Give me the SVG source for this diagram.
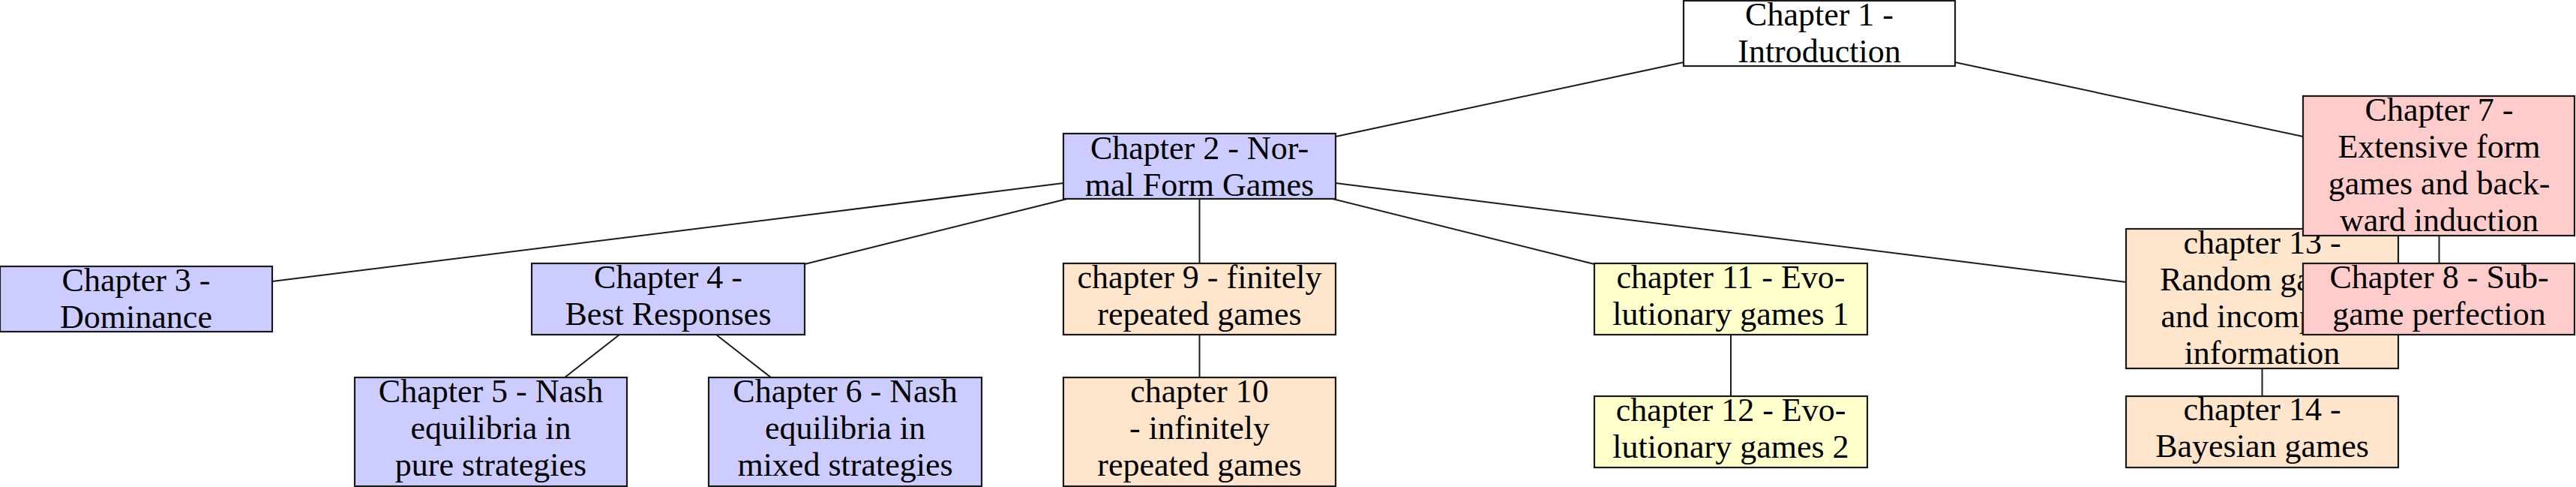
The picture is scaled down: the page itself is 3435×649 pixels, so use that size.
<svg xmlns="http://www.w3.org/2000/svg" width="3435" height="649" viewBox="0 0 3435 649">
<style>
.box{stroke:#1a1a1a;stroke-width:2.2}
.w{fill:#ffffff}.b{fill:#ccccff}.r{fill:#ffcccc}.o{fill:#ffe5cc}.y{fill:#ffffcc}
text{font-family:"Liberation Serif","Times New Roman",serif;font-size:44px;fill:#000;text-anchor:middle}
.edges line{stroke:#1a1a1a;stroke-width:2}
</style>
<rect width="3435" height="649" fill="#ffffff"/>
<g class="edges" id="connectors">
<line x1="2245" y1="83" x2="1781" y2="182"/>
<line x1="2607" y1="83" x2="3071" y2="182"/>
<line x1="1418" y1="244" x2="363" y2="375"/>
<line x1="1423" y1="265" x2="1073" y2="352"/>
<line x1="1599.5" y1="265" x2="1599.5" y2="351"/>
<line x1="1777" y1="265" x2="2126" y2="352"/>
<line x1="1781" y1="244" x2="2835" y2="376"/>
<line x1="826" y1="446" x2="753" y2="503"/>
<line x1="955" y1="446" x2="1028" y2="503"/>
<line x1="1599.5" y1="446" x2="1599.5" y2="503"/>
<line x1="2308" y1="446" x2="2308" y2="528"/>
<line x1="3252.5" y1="314" x2="3252.5" y2="351"/>
<line x1="3016.5" y1="491" x2="3016.5" y2="528"/>
</g>
<g id="ch1"><rect class="box w" x="2245" y="1" width="362" height="87"/><text x="2426" y="34">Chapter 1 -</text><text x="2426" y="83">Introduction</text></g>
<g id="ch2"><rect class="box b" x="1418" y="178" width="363" height="87"/><text x="1599.5" y="212">Chapter 2 - Nor-</text><text x="1599.5" y="261">mal Form Games</text></g>
<g id="ch3"><rect class="box b" x="0" y="355" width="363" height="87"/><text x="181.5" y="388">Chapter 3 -</text><text x="181.5" y="437">Dominance</text></g>
<g id="ch4"><rect class="box b" x="709" y="351" width="364" height="95"/><text x="891" y="384">Chapter 4 -</text><text x="891" y="433">Best Responses</text></g>
<g id="ch5"><rect class="box b" x="473" y="503" width="363" height="145"/><text x="654.5" y="536">Chapter 5 - Nash</text><text x="654.5" y="585">equilibria in</text><text x="654.5" y="634">pure strategies</text></g>
<g id="ch6"><rect class="box b" x="945" y="503" width="364" height="145"/><text x="1127" y="536">Chapter 6 - Nash</text><text x="1127" y="585">equilibria in</text><text x="1127" y="634">mixed strategies</text></g>
<g id="ch9"><rect class="box o" x="1418" y="351" width="363" height="95"/><text x="1599.5" y="384">chapter 9 - finitely</text><text x="1599.5" y="433">repeated games</text></g>
<g id="ch10"><rect class="box o" x="1418" y="503" width="363" height="145"/><text x="1599.5" y="536">chapter 10</text><text x="1599.5" y="585">- infinitely</text><text x="1599.5" y="634">repeated games</text></g>
<g id="ch11"><rect class="box y" x="2126" y="351" width="364" height="95"/><text x="2308" y="384">chapter 11 - Evo-</text><text x="2308" y="433">lutionary games 1</text></g>
<g id="ch12"><rect class="box y" x="2126" y="528" width="364" height="95"/><text x="2308" y="561">chapter 12 - Evo-</text><text x="2308" y="610">lutionary games 2</text></g>
<g id="ch13"><rect class="box o" x="2835" y="305" width="363" height="186"/><text x="3016.5" y="338">chapter 13 -</text><text x="3016.5" y="387">Random games</text><text x="3016.5" y="436">and incomplete</text><text x="3016.5" y="485">information</text></g>
<g id="ch14"><rect class="box o" x="2835" y="528" width="363" height="95"/><text x="3016.5" y="560">chapter 14 -</text><text x="3016.5" y="609">Bayesian games</text></g>
<g id="ch7"><rect class="box r" x="3071" y="128" width="362" height="186"/><text x="3252.5" y="161">Chapter 7 -</text><text x="3252.5" y="210">Extensive form</text><text x="3252.5" y="259">games and back-</text><text x="3252.5" y="308">ward induction</text></g>
<g id="ch8"><rect class="box r" x="3071" y="351" width="362" height="95"/><text x="3252.5" y="384">Chapter 8 - Sub-</text><text x="3252.5" y="433">game perfection</text></g>
</svg>
